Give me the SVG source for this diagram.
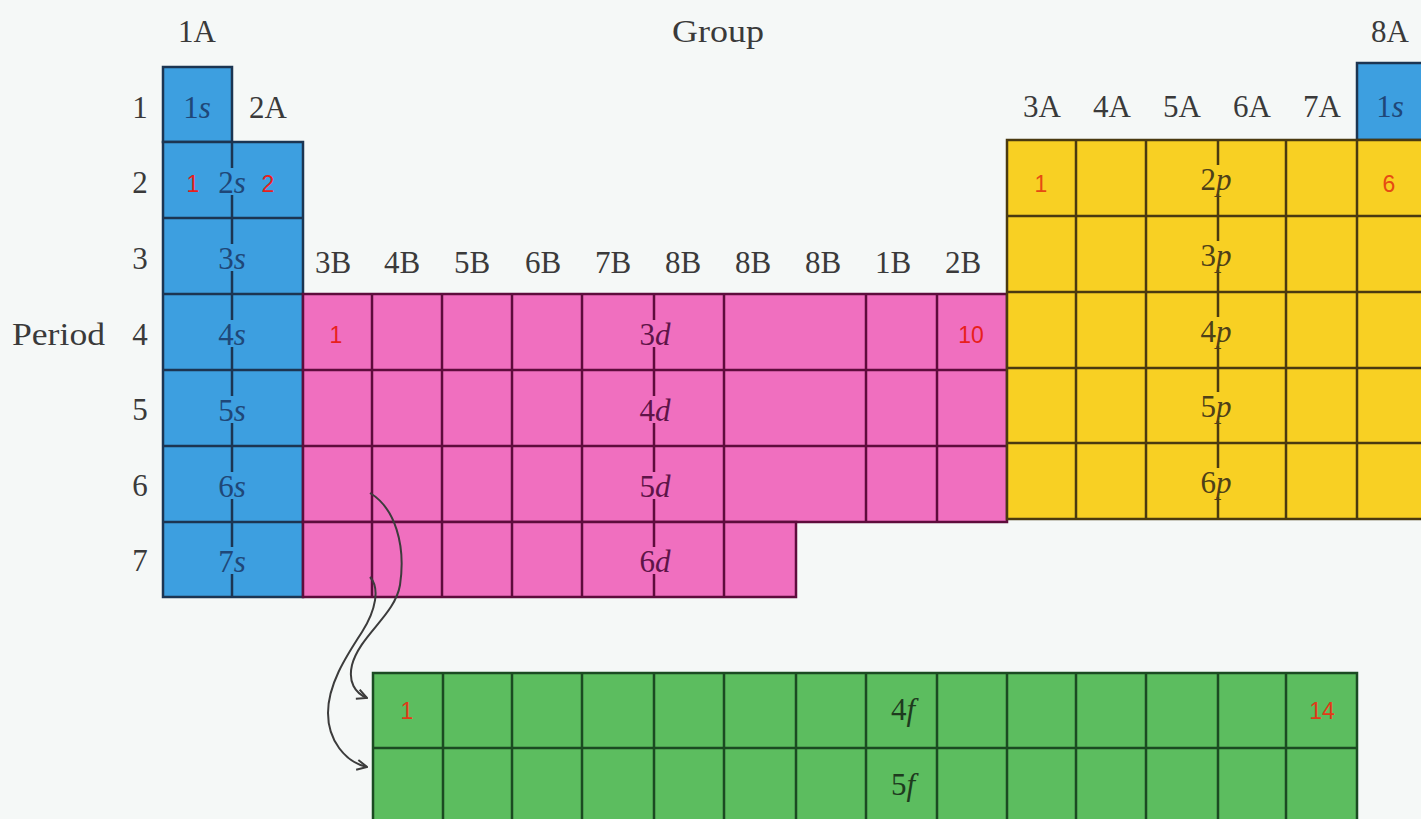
<svg xmlns="http://www.w3.org/2000/svg" width="1421" height="819" viewBox="0 0 1421 819">
<style>
.hdr{font-family:"Liberation Serif","Times New Roman",serif;font-size:31px;fill:#3a3a3a;text-anchor:middle}
.orb{font-family:"Liberation Serif","Times New Roman",serif;font-size:31px;text-anchor:middle}
.orb tspan{font-style:italic}
.num{font-family:"Liberation Sans",Arial,sans-serif;font-size:23px;text-anchor:middle}
.sb{fill:#3d9fe0;stroke:#1c3552;stroke-width:2.5}
.sl{stroke:#1c3552;stroke-width:2.5;fill:none}
.db{fill:#f06fbf;stroke:#5e0c3c;stroke-width:2.5}
.dl{stroke:#5e0c3c;stroke-width:2.5;fill:none}
.pb{fill:#f8d023;stroke:#4a3a10;stroke-width:2.5}
.pl{stroke:#4a3a10;stroke-width:2.5;fill:none}
.fb{fill:#5cbd5f;stroke:#1b4a22;stroke-width:2.5}
.fl{stroke:#1b4a22;stroke-width:2.5;fill:none}
.conn{fill:none;stroke:#3c3c3c;stroke-width:2}
</style>
<defs>
<marker id="arr" viewBox="0 0 12 12" refX="11" refY="6" markerWidth="12" markerHeight="12" markerUnits="userSpaceOnUse" orient="auto">
<path d="M1,1 L11,6 L1,11" fill="none" stroke="#3c3c3c" stroke-width="2"/>
</marker>
</defs>
<rect x="0" y="0" width="1421" height="819" fill="#f5f8f7"/>

<g id="headers">
<text class="hdr" x="197" y="42">1A</text>
<text class="hdr" x="718" y="42" font-size="33" textLength="92" lengthAdjust="spacingAndGlyphs">Group</text>
<text class="hdr" x="1390" y="42">8A</text>
<text class="hdr" x="268" y="118">2A</text>
<text class="hdr" x="1042" y="117">3A</text>
<text class="hdr" x="1112" y="117">4A</text>
<text class="hdr" x="1182" y="117">5A</text>
<text class="hdr" x="1252" y="117">6A</text>
<text class="hdr" x="1322" y="117">7A</text>
<text class="hdr" x="333" y="273">3B</text>
<text class="hdr" x="402" y="273">4B</text>
<text class="hdr" x="472" y="273">5B</text>
<text class="hdr" x="543" y="273">6B</text>
<text class="hdr" x="613" y="273">7B</text>
<text class="hdr" x="683" y="273">8B</text>
<text class="hdr" x="753" y="273">8B</text>
<text class="hdr" x="823" y="273">8B</text>
<text class="hdr" x="893" y="273">1B</text>
<text class="hdr" x="963" y="273">2B</text>
<text class="hdr" x="12" y="345" style="text-anchor:start" textLength="93" lengthAdjust="spacingAndGlyphs">Period</text>
<text class="hdr" x="140" y="118">1</text>
<text class="hdr" x="140" y="193">2</text>
<text class="hdr" x="140" y="269">3</text>
<text class="hdr" x="140" y="345">4</text>
<text class="hdr" x="140" y="420">5</text>
<text class="hdr" x="140" y="496">6</text>
<text class="hdr" x="140" y="571">7</text>
</g>

<g id="s-block">
<rect class="sb" x="163" y="67" width="69" height="75"/>
<rect class="sb" x="163" y="142" width="140" height="455"/>
<rect class="sb" x="1357" y="63" width="70" height="77"/>
<path class="sl" d="M163,218H303M163,294H303M163,370H303M163,446H303M163,522H303"/>
<path class="sl" d="M232,142V168M232,195V218M232,218V244M232,271V294M232,294V320M232,347V370M232,370V396M232,423V446M232,446V472M232,499V522M232,522V547M232,574V597"/>
<g fill="#1f4778">
<text class="orb" x="197" y="118">1<tspan>s</tspan></text>
<text class="orb" x="1390" y="117">1<tspan>s</tspan></text>
<text class="orb" x="232" y="193">2<tspan>s</tspan></text>
<text class="orb" x="232" y="269">3<tspan>s</tspan></text>
<text class="orb" x="232" y="345">4<tspan>s</tspan></text>
<text class="orb" x="232" y="421">5<tspan>s</tspan></text>
<text class="orb" x="232" y="497">6<tspan>s</tspan></text>
<text class="orb" x="232" y="572">7<tspan>s</tspan></text>
</g>
<g fill="#e8201c">
<text class="num" x="193" y="192">1</text>
<text class="num" x="268" y="192">2</text>
</g>
</g>

<g id="d-block">
<rect class="db" x="303" y="294" width="704" height="228"/>
<rect class="db" x="303" y="522" width="493" height="75"/>
<path class="dl" d="M303,370H1007M303,446H1007"/>
<path class="dl" d="M372,294V597M442,294V597M512,294V597M582,294V597M724,294V597M866,294V522M937,294V522"/>
<path class="dl" d="M654,294V320M654,347V370M654,370V396M654,423V446M654,446V472M654,499V522M654,522V547M654,574V597"/>
<g fill="#5e1448">
<text class="orb" x="655" y="345">3<tspan>d</tspan></text>
<text class="orb" x="655" y="421">4<tspan>d</tspan></text>
<text class="orb" x="655" y="497">5<tspan>d</tspan></text>
<text class="orb" x="655" y="572">6<tspan>d</tspan></text>
</g>
<g fill="#e8201c">
<text class="num" x="336" y="343">1</text>
<text class="num" x="971" y="343">10</text>
</g>
</g>

<g id="p-block">
<rect class="pb" x="1007" y="140" width="420" height="379"/>
<path class="pl" d="M1007,216H1421M1007,292H1421M1007,368H1421M1007,443H1421"/>
<path class="pl" d="M1076,140V519M1146,140V519M1286,140V519M1357,140V519"/>
<path class="pl" d="M1218,140V165M1218,194V216M1218,216V241M1218,270V292M1218,292V317M1218,346V368M1218,368V392M1218,421V443M1218,443V468M1218,497V519"/>
<g fill="#4e4018">
<text class="orb" x="1216" y="190">2<tspan>p</tspan></text>
<text class="orb" x="1216" y="266">3<tspan>p</tspan></text>
<text class="orb" x="1216" y="342">4<tspan>p</tspan></text>
<text class="orb" x="1216" y="417">5<tspan>p</tspan></text>
<text class="orb" x="1216" y="493">6<tspan>p</tspan></text>
</g>
<g fill="#e64a12">
<text class="num" x="1041" y="192">1</text>
<text class="num" x="1389" y="192">6</text>
</g>
</g>

<g id="f-block">
<rect class="fb" x="373" y="673" width="984" height="152"/>
<path class="fl" d="M373,748H1357"/>
<path class="fl" d="M443,673V819M512,673V819M582,673V819M654,673V819M724,673V819M796,673V819M866,673V819M937,673V819M1007,673V819M1076,673V819M1146,673V819M1218,673V819M1286,673V819"/>
<g fill="#1e3a1e">
<text class="orb" x="903" y="720">4<tspan>f</tspan></text>
<text class="orb" x="903" y="795">5<tspan>f</tspan></text>
</g>
<g fill="#e23a18">
<text class="num" x="407" y="719">1</text>
<text class="num" x="1322" y="719">14</text>
</g>
</g>

<g id="connectors">
<path class="conn" marker-end="url(#arr)" d="M370,493 C395,508 406,545 400,585 C395,615 360,635 352,665 C348,682 355,693 367,698"/>
<path class="conn" marker-end="url(#arr)" d="M370,577 C380,588 376,610 362,632 C345,658 328,685 328,713 C328,740 345,762 367,767"/>
</g>
</svg>
